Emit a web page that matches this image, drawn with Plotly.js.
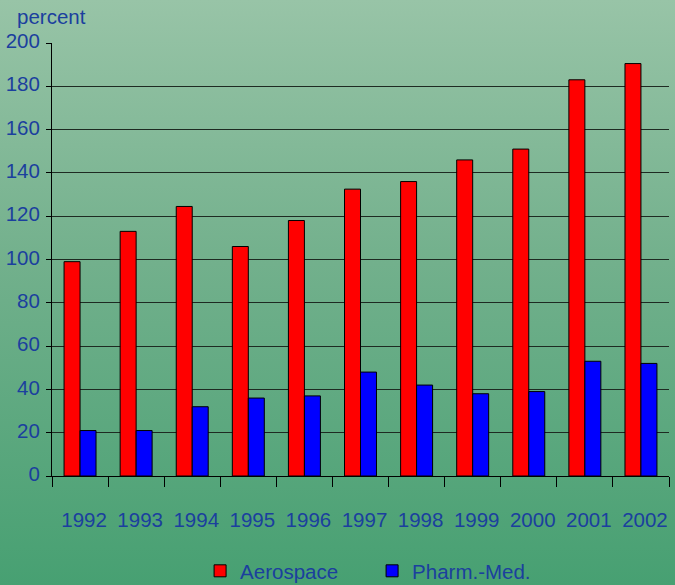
<!DOCTYPE html>
<html>
<head>
<meta charset="utf-8">
<script src="https://cdn.plot.ly/plotly-3.0.1.min.js"></script>
<style>
  html, body { margin: 0; padding: 0; overflow: hidden; }
  body { width: 675px; height: 585px; background: linear-gradient(to bottom, #98c4a7 0%, #72b08c 45%, #47a072 100%); }
  #chart { width: 675px; height: 591px; }
</style>
</head>
<body>
<div id="chart"></div>
<script>
const years = ['1992','1993','1994','1995','1996','1997','1998','1999','2000','2001','2002'];
const aerospace = [99, 113, 124.5, 106, 118, 132.5, 136, 146, 151, 183, 190.5];
const pharmMed = [21, 21, 32, 36, 37, 48, 42, 38, 39, 53, 52];
const yTicks = [0, 20, 40, 60, 80, 100, 120, 140, 160, 180, 200];

const textColor = '#1b3f9e';
const font = {family: 'Liberation Sans, Arial, sans-serif', size: 20.5, color: textColor};

const traces = [
  {type: 'bar', name: 'Aerospace', x: years, y: aerospace,
   marker: {color: '#ff0000', line: {color: '#000000', width: 1}}},
  {type: 'bar', name: 'Pharm.-Med.', x: years, y: pharmMed,
   marker: {color: '#0000ff', line: {color: '#000000', width: 1}}}
];

const layout = {
  width: 675, height: 591,
  paper_bgcolor: 'rgba(0,0,0,0)', plot_bgcolor: 'rgba(0,0,0,0)',
  margin: {l: 52, r: 6, t: 43, b: 115},
  font: font,
  barmode: 'group', bargap: 0.43, bargroupgap: 0,
  showlegend: true,
  legend: {orientation: 'h', x: 0.24, xanchor: 'left', yref: 'container', y: 0, yanchor: 'bottom',
           font: font, bgcolor: 'rgba(0,0,0,0)', entrywidth: 127, entrywidthmode: 'pixels', traceorder: 'normal'},
  xaxis: {type: 'category', showline: true, linecolor: '#000', linewidth: 1,
          ticks: 'outside', tickson: 'boundaries', ticklen: 10, tickcolor: '#000', tickwidth: 1,
          ticklabelstandoff: 25, ticklabelshift: 4, showgrid: false, tickfont: font, fixedrange: true},
  yaxis: {range: [0, 200], tickvals: yTicks, showline: true, linecolor: '#000', linewidth: 1,
          ticks: 'outside', ticklen: 5, tickcolor: '#000', tickwidth: 1, ticklabelstandoff: 2, ticklabelshift: -2,
          showgrid: true, gridcolor: '#1e2a22', gridwidth: 1, zeroline: false, tickfont: font, fixedrange: true},
  annotations: [{text: 'percent', xref: 'paper', yref: 'paper', x: -0.06, y: 1.0, xanchor: 'left', yanchor: 'bottom',
                 yshift: 13, showarrow: false, font: font}]
};

Plotly.newPlot('chart', traces, layout, {displayModeBar: false, staticPlot: true});
</script>
</body>
</html>
